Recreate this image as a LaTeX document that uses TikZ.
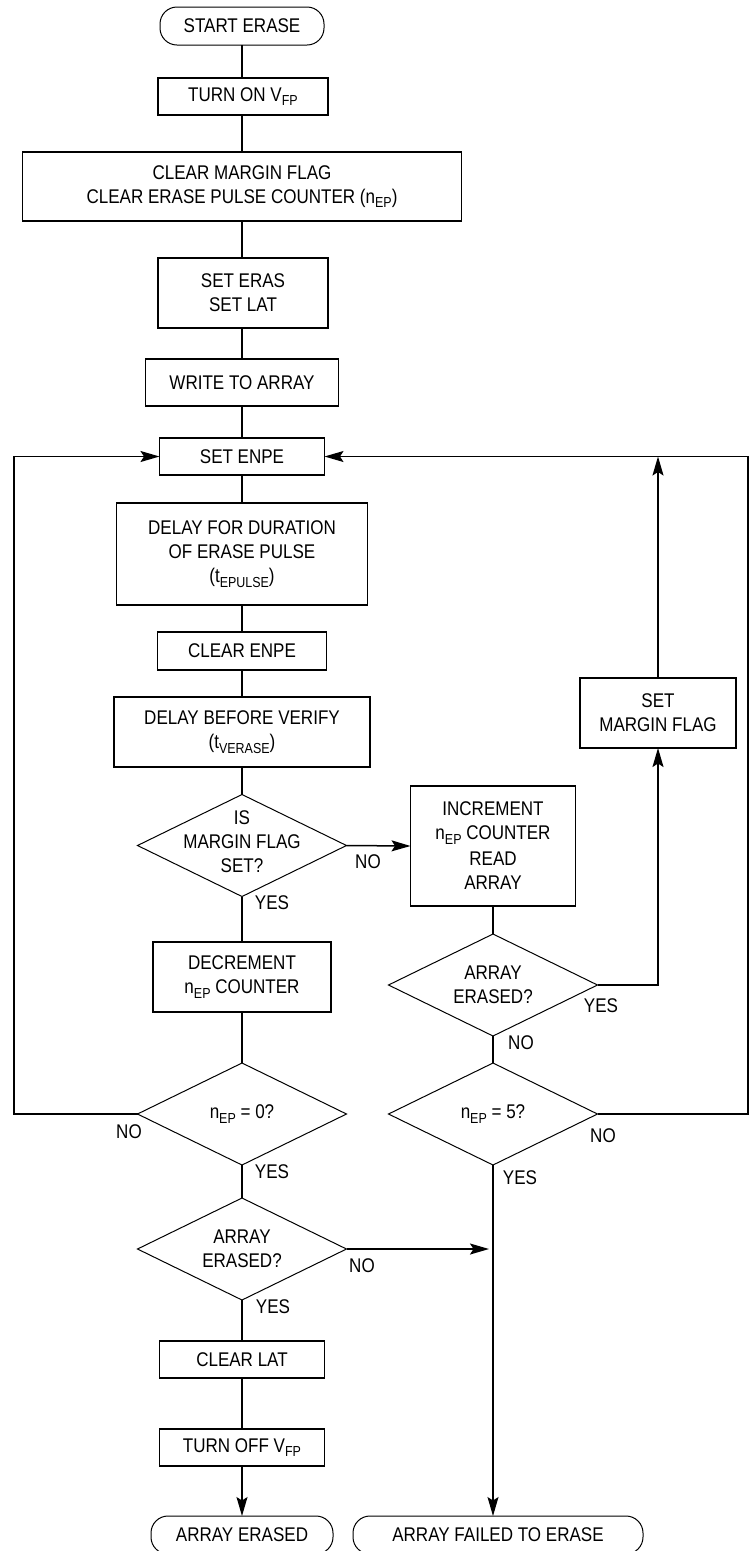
\documentclass[tikz,border=0pt]{standalone}
\usepackage{fontspec}
\setmainfont{Liberation Sans}[FakeStretch=0.86]
\usetikzlibrary{shapes.geometric,arrows.meta}
\newcommand{\sbs}[1]{\raisebox{-4.5pt}{\fontsize{14.5}{14.5}\selectfont #1}}
\begin{document}
\begin{tikzpicture}[x=1pt,y=-1pt,
  every node/.style={font=\fontsize{19.8}{24}\selectfont, align=center, inner sep=0pt, outer sep=0pt},
  box/.style={draw, line width=1.5pt, rectangle},
  term/.style={draw, line width=1pt, rectangle, rounded corners=17pt, minimum height=38},
  dia/.style={diamond, draw, line width=1pt, minimum width=209, minimum height=102},
  lbl/.style={},
  ln/.style={line width=1.5pt},
  thin/.style={line width=1.1pt},
  arr/.style={-{Stealth[length=19pt,width=11pt,inset=3.5pt]}}
]
\useasboundingbox (0,0) rectangle (750,1551);
% main column
\node[term, minimum width=164] (start) at (242,26) {START ERASE};
\node[box, minimum width=170, minimum height=37] (turnon) at (243,96.5) {TURN ON V\sbs{FP}};
\node[box, minimum width=439, minimum height=69] (clrmf) at (242,186.5) {CLEAR MARGIN FLAG\\CLEAR ERASE PULSE COUNTER (n\sbs{EP})};
\node[box, minimum width=170, minimum height=70] (eras) at (243,293) {SET ERAS\\SET LAT};
\node[box, minimum width=193, minimum height=47] (write) at (242,382.5) {WRITE TO ARRAY};
\node[box, minimum width=165, minimum height=37] (setenpe) at (242,456.5) {SET ENPE};
\node[box, minimum width=251, minimum height=102] (delay) at (242,554) {DELAY FOR DURATION\\OF ERASE PULSE\\(t\sbs{EPULSE})};
\node[box, minimum width=169, minimum height=38] (clrenpe) at (242,651) {CLEAR ENPE};
\node[box, minimum width=256, minimum height=70] (dbv) at (242,732) {DELAY BEFORE VERIFY\\(t\sbs{VERASE})};
\node[dia, label={[yshift=4pt]center:IS\\MARGIN FLAG\\SET?}] (dmargin) at (242,845.5) {};
\node[box, minimum width=178, minimum height=70] (dec) at (242,977) {DECREMENT\\n\sbs{EP} COUNTER};
\node[dia, label={center:n\sbs{EP} = 0?}] (d0) at (242,1114) {};
\node[dia, label={center:ARRAY\\ERASED?}] (derL) at (242,1249) {};
\node[box, minimum width=165, minimum height=37] (clrlat) at (242,1359.5) {CLEAR LAT};
\node[box, minimum width=165, minimum height=37] (turnoff) at (242,1447.5) {TURN OFF V\sbs{FP}};
\node[term, minimum width=182] (endok) at (242,1535) {ARRAY ERASED};
% right column
\node[box, minimum width=165, minimum height=120] (incr) at (493,846) {INCREMENT\\n\sbs{EP} COUNTER\\[2pt]READ\\ARRAY};
\node[dia, label={center:ARRAY\\ERASED?}] (derR) at (493,985) {};
\node[dia, label={center:n\sbs{EP} = 5?}] (d5) at (493,1114) {};
\node[term, minimum width=290] (endfail) at (498,1535) {ARRAY FAILED TO ERASE};
\node[box, minimum width=156, minimum height=70] (setmf) at (658,713) {SET\\MARGIN FLAG};
% labels
\node[lbl] (l1) at (368,862) {NO};
\node[lbl] (l2) at (272,903) {YES};
\node[lbl] (l3) at (601,1006) {YES};
\node[lbl] (l4) at (521,1043) {NO};
\node[lbl] (l5) at (129,1132) {NO};
\node[lbl] (l6) at (272,1172) {YES};
\node[lbl] (l7) at (603,1136) {NO};
\node[lbl] (l8) at (520,1178) {YES};
\node[lbl] (l9) at (362,1266) {NO};
\node[lbl] (l10) at (273,1307) {YES};
% coordinates
\coordinate (lcol) at (14,0);
\coordinate (rcol) at (748,0);
\coordinate (join) at (489,1249);
% connectors
\draw[ln] (start) -- (start |- turnon.north);
\draw[ln] (turnon.south -| clrmf) -- (clrmf);
\draw[ln] (clrmf) -- (clrmf |- eras.north);
\draw[ln] (eras.south -| write) -- (write);
\draw[ln] (write) -- (setenpe);
\draw[ln] (setenpe) -- (delay);
\draw[ln] (delay) -- (clrenpe);
\draw[ln] (clrenpe) -- (dbv);
\draw[ln] (dbv) -- (dmargin);
\draw[ln, arr] (dmargin.east) -- (incr.west);
\draw[ln] (dmargin) -- (dec);
\draw[ln] (dec) -- (d0);
\draw[ln] (d0) -- (derL);
\draw[ln] (derL) -- (clrlat);
\draw[ln] (clrlat) -- (turnoff);
\draw[ln, arr] (turnoff) -- (endok);
\draw[ln, arr] (d0.west) -- (d0.west -| lcol) |- (setenpe.west);
\draw[ln, arr] (derL.east) -- (join);
\draw[thin] (incr) -- (derR);
\draw[thin] (derR) -- (d5);
\draw[thin, arr] (d5.south) -- (d5.south |- endfail.north);
\draw[ln, arr] (derR.east) -| (setmf.south);
\draw[ln, arr] (setmf.north) -- (setmf.north |- setenpe.east);
\draw[thin, arr] (d5.east) -- (d5.east -| rcol) |- (setenpe.east);
\end{tikzpicture}
\end{document}
